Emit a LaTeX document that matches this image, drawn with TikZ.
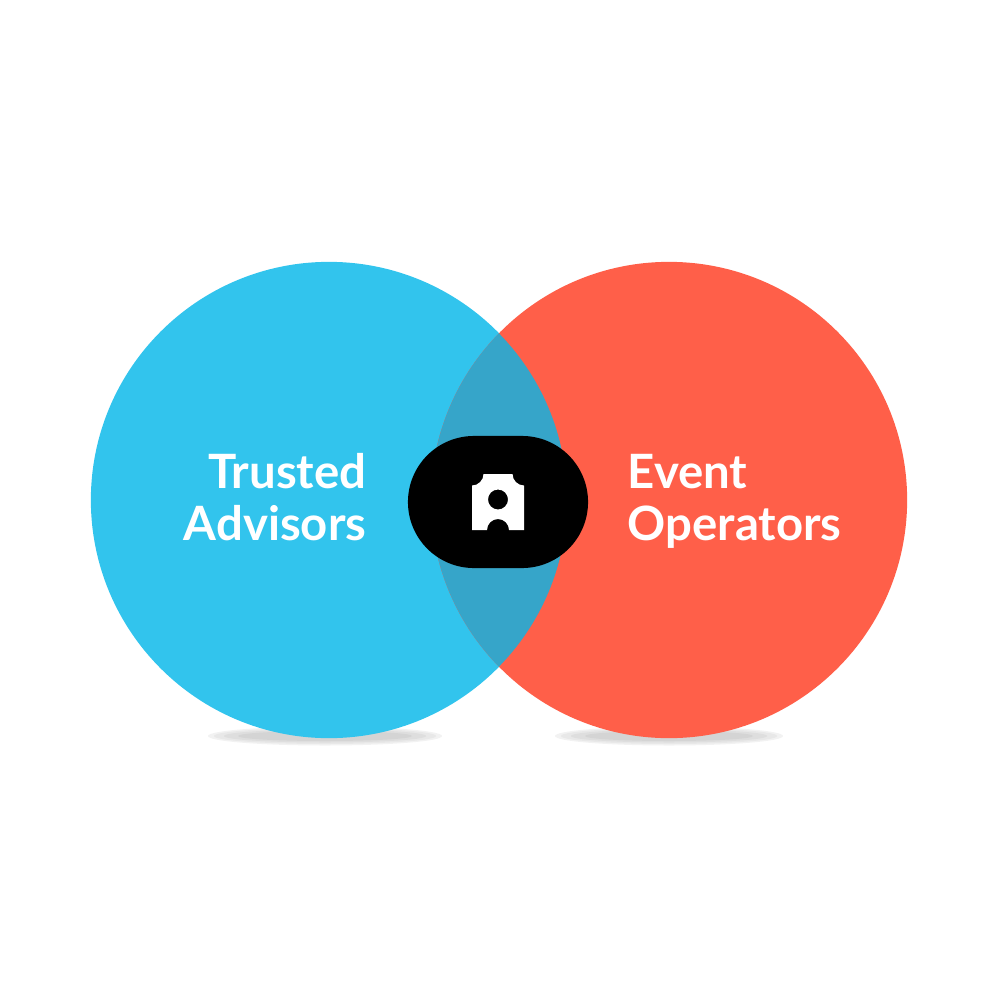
\documentclass[tikz,border=0pt]{standalone}
\usepackage{fontspec}
\setmainfont{Lato}
\definecolor{advisor}{HTML}{32C4ED}
\definecolor{operator}{HTML}{FF5F49}
\definecolor{both}{HTML}{36A5C9}
\tikzset{
  venn/.style={circle, minimum size=4.76cm, inner sep=0pt},
  label/.style={text=white, font=\fontsize{13.45}{14.8}\selectfont\bfseries, inner sep=0pt, text depth=0pt},
  badge/.style={rectangle, fill=black, minimum width=1.8cm, minimum height=1.32cm, rounded corners=0.66cm, inner sep=0pt}
}
\begin{document}
\begin{tikzpicture}[x=0.01cm, y=-0.01cm]
\useasboundingbox (0,0) rectangle (1000,1000);
% shadows
\foreach \xc/\xr in {325/117, 669/114} {
  \fill[black!5] (\xc,736) ellipse[x radius=\xr, y radius=9.5];
  \fill[black!9] (\xc,736) ellipse[x radius=\xr-6, y radius=8];
  \fill[black!13] (\xc,736) ellipse[x radius=\xr-16, y radius=6.5];
  \fill[black!17] (\xc,736) ellipse[x radius=\xr-30, y radius=5];
}
\node[venn, fill=advisor] (trusted) at (329,500) {};
\node[venn, fill=operator] (event) at (669,500) {};
\begin{scope}
\clip (trusted.center) circle[radius=238];
\node[venn, fill=both] (overlap) at (event.center) {};
\end{scope}
\node[badge] (pill) at (498,502) {};
% icon
\fill[white, even odd rule] (472,485.5) arc[start angle=90, end angle=0, radius=11.5]
  -- (512.5,474) arc[start angle=180, end angle=90, radius=11.5]
  -- (524,530) -- (509,530) arc[start angle=0, end angle=-180, radius=11]
  -- (472,530) -- cycle
  (498,499.5) circle[radius=10];
\node[label, align=right, anchor=south east] (left) at (367,541) {Trusted\\Advisors};
\node[label, align=left, anchor=south west] (right) at (627,541) {Event\\Operators};
\end{tikzpicture}
\end{document}
